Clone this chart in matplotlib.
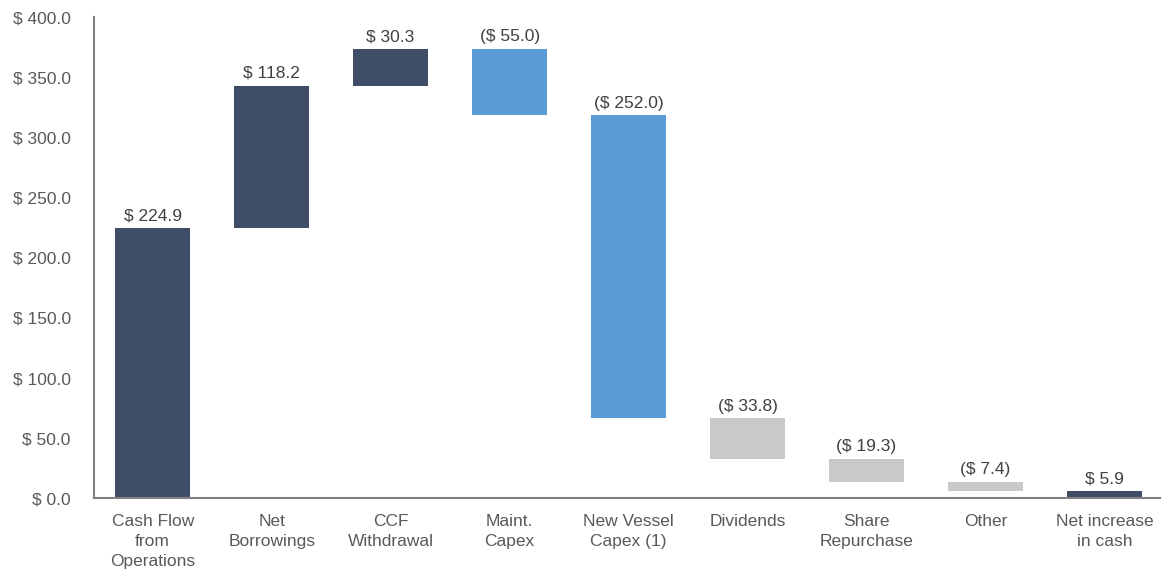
import matplotlib
matplotlib.use("Agg")
import matplotlib.pyplot as plt

plt.rcParams['font.family'] = ['Liberation Sans', 'DejaVu Sans']

categories = ["Cash Flow\nfrom\nOperations", "Net\nBorrowings", "CCF\nWithdrawal",
              "Maint.\nCapex", "New Vessel\nCapex (1)", "Dividends",
              "Share\nRepurchase", "Other", "Net increase\nin cash"]
values = [224.9, 118.2, 30.3, -55.0, -252.0, -33.8, -19.3, -7.4, 5.9]
colors = ["#3F4E66", "#3F4E66", "#3F4E66", "#5B9BD5", "#5B9BD5",
          "#C9C9C9", "#C9C9C9", "#C9C9C9", "#3F4E66"]

# waterfall bottoms; last bar is the total from zero
bottoms = []
running = 0.0
for i, v in enumerate(values):
    if i == len(values) - 1:
        bottoms.append(0.0)
        continue
    if v >= 0:
        bottoms.append(running)
    else:
        bottoms.append(running + v)
    running += v
heights = [abs(v) for v in values]

fig = plt.figure(figsize=(11.65, 5.76), dpi=100)
ax = fig.add_axes([0.081, 0.135, 0.915, 0.835])

x = list(range(len(values)))
ax.bar(x, heights, bottom=bottoms, width=0.63, color=colors, zorder=2)

def fmt(v):
    return f"$ {v:.1f}" if v >= 0 else f"($ {abs(v):.1f})"

for xi, b, h, v in zip(x, bottoms, heights, values):
    ax.text(xi, b + h + 4, fmt(v), ha="center", va="bottom",
            fontsize=12.5, color="#404040")

ax.set_xlim(-0.49, 8.47)
ax.set_ylim(0, 400)
ax.set_yticks([0, 50, 100, 150, 200, 250, 300, 350, 400])
ax.set_yticklabels([f"$ {t:.1f}" for t in [0, 50, 100, 150, 200, 250, 300, 350, 400]])
ax.set_xticks(x)
ax.set_xticklabels(categories, linespacing=1.45)
ax.tick_params(axis="both", length=0, labelsize=12.5, labelcolor="#595959")
ax.tick_params(axis="y", pad=17)
ax.tick_params(axis="x", pad=11)

for s in ["top", "right"]:
    ax.spines[s].set_visible(False)
for s in ["left", "bottom"]:
    ax.spines[s].set_color("#808080")
    ax.spines[s].set_linewidth(1.5)

fig.savefig("out.png", dpi=100)
